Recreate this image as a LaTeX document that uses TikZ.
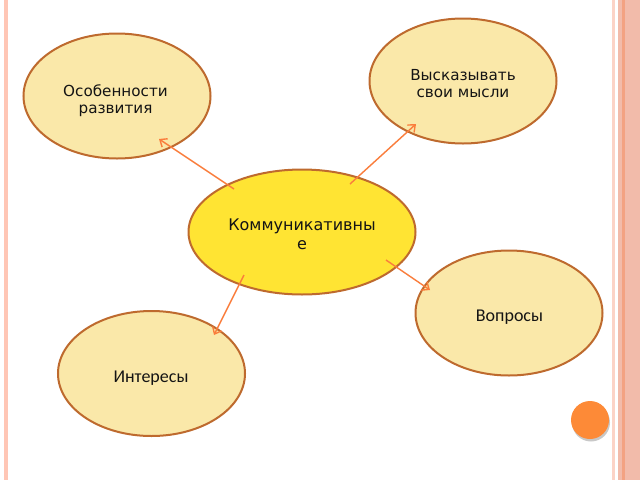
\documentclass[tikz,border=0pt]{standalone}
\usepackage{fontspec}
\setmainfont{DejaVu Sans}
\newfontfamily\calfont{Carlito}
\usetikzlibrary{shapes.geometric,arrows.meta,calc}
\definecolor{bub}{HTML}{FAE8A9}
\definecolor{bubline}{HTML}{BE6A2E}
\definecolor{core}{HTML}{FFE433}
\definecolor{arrc}{HTML}{FA7D3C}
\definecolor{dotc}{HTML}{FD8A37}
\definecolor{stripeA}{HTML}{FFC6B5}
\definecolor{stripeB}{HTML}{FCD3C6}
\definecolor{stripeC}{HTML}{F2BBAA}
\definecolor{stripeD}{HTML}{F3A282}
\definecolor{txtc}{HTML}{141414}
\begin{document}
\begin{tikzpicture}[x=1pt,y=-1pt,
 bubble/.style={ellipse, draw=bubline, line width=2pt, fill=bub, minimum width=187pt, minimum height=125pt, inner sep=0pt},
 corebubble/.style={bubble, fill=core, minimum width=227pt, minimum height=125pt},
 lbl/.style={text=txtc, align=center, inner sep=0pt, font=\fontsize{15.2}{17}\selectfont},
 lblcore/.style={lbl, font=\fontsize{16}{19.5}\selectfont},
 lblc/.style={lbl, font=\calfont\fontsize{18}{21}\selectfont},
 arr/.style={draw=arrc, line width=1.4pt, -{Straight Barb[length=6pt,width=10pt]}}]
\useasboundingbox (0,0) rectangle (640,480);
\fill[white] (0,0) rectangle (640,480);
% border stripes
\fill[stripeA] (4,0) rectangle (7.5,480);
\fill[stripeB] (612,0) rectangle (615,480);
\fill[stripeC] (618,0) rectangle (640,480);
\fill[stripeD] (622,0) rectangle (625,480);
% orange dot with shadow
\fill[gray!60, opacity=0.7] (591,422.5) circle (19);
\fill[dotc] (590,420) circle (19);
% bubbles
\node[bubble] (e1) at (117,96) {};
\node[bubble] (e2) at (463,81) {};
\node[corebubble] (c) at (302,232) {};
\node[bubble] (e4) at (509,313) {};
\node[bubble] (e5) at (151.5,373.5) {};
% labels
\node[lbl] (t1) at (115.5,100.5) {Особенности\\развития};
\node[lbl] (t2) at (463,83.5) {Высказывать\\свои мысли};
\node[lblcore] (t3) at (302,234.3) {Коммуникативны\\е};
\node[lblc] (t4) at (509.5,316.7) {Вопросы};
\node[lblc] (t5) at (151,377.7) {Интересы};
% connector end points
\coordinate (s1) at ($(c.center)+(-68,-43)$);
\coordinate (p1) at ($(e1.center)+(42,43)$);
\coordinate (s2) at ($(c.center)+(48,-48)$);
\coordinate (p2) at ($(e2.center)+(-47,43)$);
\coordinate (s3) at ($(c.center)+(84,28)$);
\coordinate (p3) at ($(e4.center)+(-79,-23)$);
\coordinate (s4) at ($(c.center)+(-58,43)$);
\coordinate (p4) at ($(e5.center)+(62.5,-38.5)$);
\draw[arr] (s1) -- (p1);
\draw[arr] (s2) -- (p2);
\draw[arr] (s3) -- (p3);
\draw[arr] (s4) -- (p4);
\end{tikzpicture}
\end{document}
